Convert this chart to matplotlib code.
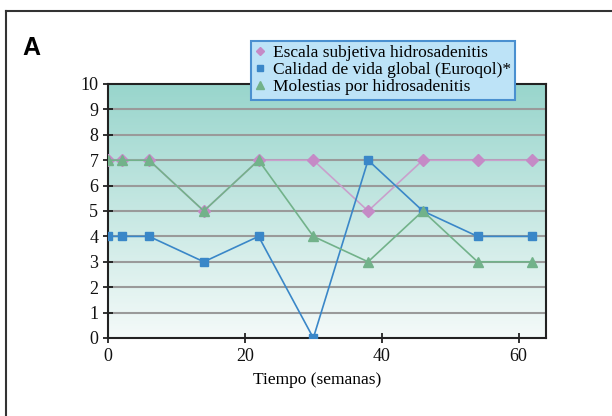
import numpy as np
import matplotlib.pyplot as plt
from matplotlib.lines import Line2D

semanas = [0, 2, 6, 14, 22, 30, 38, 46, 54, 62]
escala = [7, 7, 7, 5, 7, 7, 5, 7, 7, 7]
calidad = [4, 4, 4, 3, 4, 0, 7, 5, 4, 4]
molestias = [7, 7, 7, 5, 7, 4, 3, 5, 3, 3]

nombres = ["Escala subjetiva hidrosadenitis",
           "Calidad de vida global (Euroqol)*",
           "Molestias por hidrosadenitis"]

plt.rcParams['font.family'] = ['Liberation Serif', 'DejaVu Serif']

fig = plt.figure(figsize=(6.12, 4.16), dpi=100)
ax = fig.add_axes([0.1765, 0.1875, 0.7157, 0.6106])

# degradado de fondo
grad = np.linspace(0, 1, 256).reshape(-1, 1)
top = np.array([0x98, 0xd5, 0xcc]) / 255
bot = np.array([0xf4, 0xfa, 0xf9]) / 255
img = bot + (top - bot) * grad
ax.imshow(img.reshape(256, 1, 3), extent=[0, 64, 0, 10], origin='lower',
          aspect='auto', zorder=0)

for y in range(1, 10):
    ax.axhline(y, color='#9a9a9a', lw=1.5, zorder=1)

ax.plot(semanas, escala, color='#c9a0cc', lw=1.2, marker='D', ms=6,
        mfc='#c58ac6', mec='#c58ac6', zorder=3)
ax.plot(semanas, calidad, color='#3a87c8', lw=1.2, marker='s', ms=6,
        mfc='#3a87c8', mec='#3a87c8', zorder=4)
ax.plot(semanas, molestias, color='#72b28a', lw=1.2, marker='^', ms=7,
        mfc='#72b28a', mec='#72b28a', zorder=5)

ax.set_xlim(0, 64)
ax.set_ylim(0, 10)
ax.set_xticks([0, 20, 40, 60])
ax.set_yticks(range(0, 11))
ax.tick_params(direction='inout', length=7, width=1.2, labelsize=13, colors='#111')
for s in ax.spines.values():
    s.set_linewidth(1.5)
    s.set_color('#222')
ax.set_xlabel("Tiempo (semanas)", fontsize=12.5, va='center')
ax.xaxis.set_label_coords(0.477, -0.165)

handles = [
    Line2D([], [], ls='none', marker='D', ms=4.5, color='#c58ac6'),
    Line2D([], [], ls='none', marker='s', ms=5, color='#3a87c8'),
    Line2D([], [], ls='none', marker='^', ms=5.5, color='#72b28a'),
]
leg = fig.legend(handles, nombres, loc='upper left', bbox_to_anchor=(0.41, 0.902),
                 fontsize=12.5, frameon=True, fancybox=False, handlelength=0.6,
                 handletextpad=0.4, borderpad=0.25, labelspacing=0.05,
                 borderaxespad=0)
leg.get_frame().set_facecolor('#bde3f7')
leg.get_frame().set_edgecolor('#4a90d0')
leg.get_frame().set_linewidth(1.5)
leg.get_frame().set_alpha(1)
leg.set_zorder(10)

fig.text(0.036, 0.885, "A", fontsize=18, fontweight='bold',
         family='Liberation Sans', va='center')

# marco exterior
fig.add_artist(Line2D([0.01, 0.01], [0, 0.974], color='#333', lw=1.5))
fig.add_artist(Line2D([0.01, 1.0], [0.974, 0.974], color='#333', lw=1.5))

fig.savefig("out.png", dpi=100)
